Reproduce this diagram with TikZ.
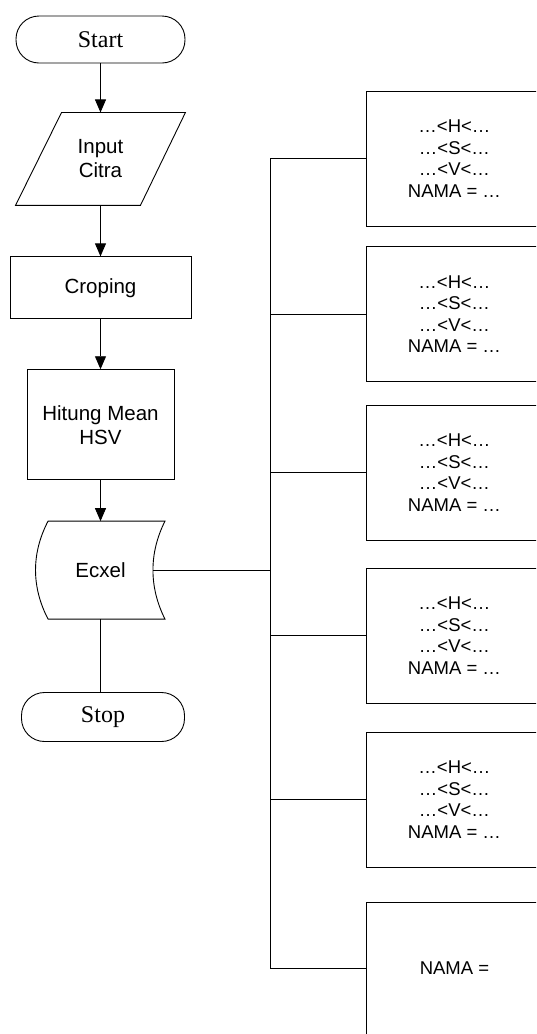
\documentclass[tikz,border=0pt]{standalone}
\usepackage{fontspec}
\setmainfont{Liberation Serif}
\setsansfont{Liberation Sans}
\usetikzlibrary{arrows.meta,positioning}

\begin{document}
\begin{tikzpicture}[x=1pt, y=-1pt, line width=0.9pt,
  >={Triangle[length=13pt,width=11pt]},
  term/.style={draw, rounded corners=23pt, minimum width=#1, inner sep=0pt,
    font={\fontsize{24}{28}\selectfont\rmfamily}},
  plain/.style={align=center, inner sep=0pt, font={\fontsize{20.5}{24}\selectfont\sffamily}},
  proc/.style={plain, draw},
  rulebox/.style={draw, align=center, anchor=west, minimum width=176pt,
    minimum height=135pt, inner sep=0pt, font={\fontsize{18.5}{21.5}\selectfont\sffamily}}]
\useasboundingbox (0,0) rectangle (536,1034);
\clip (0,0) rectangle (536,1034);

% alur utama
\node[term=169pt, minimum height=47pt] (start) at (100.5,39.5) {Start};
\node[plain, minimum width=123pt, minimum height=92pt, below=49pt of start] (input) {Input\\Citra};
\node[proc, minimum width=181pt, minimum height=62pt, below=51pt of input] (crop) {Croping};
\node[proc, minimum width=147pt, minimum height=110pt, below=50pt of crop] (mean) {Hitung Mean\\HSV};
\node[plain, minimum width=104pt, minimum height=97pt, below=41pt of mean] (excel) {Ecxel};
\node[term=163pt, minimum height=49pt, below=73pt of excel, xshift=2.5pt] (stop) {Stop};

% bentuk input dan data
\draw ([xshift=23pt]input.north west) -- ([xshift=23pt]input.north east)
  -- ([xshift=-22pt]input.south east) -- ([xshift=-23pt]input.south west) -- cycle;
\draw (excel.north west) -- ([xshift=12pt]excel.north east)
  .. controls ([xshift=-4pt,yshift=-32pt]excel.north east) and ([xshift=-4pt,yshift=32pt]excel.south east) .. ([xshift=12pt]excel.south east)
  -- (excel.south west)
  .. controls ([xshift=-16.7pt,yshift=32pt]excel.south west) and ([xshift=-16.7pt,yshift=-32pt]excel.north west) .. (excel.north west) -- cycle;

\draw[->] (start) -- (input);
\draw[->] (input) -- (crop);
\draw[->] (crop) -- (mean);
\draw[->] (mean) -- (excel);
\draw (excel) -- (excel |- stop.north);

% aturan HSV
\foreach \y [count=\i] in {158.5,314,472.5,635.5,799.5}
  \node[rulebox] (k\i) at (366,\y) {…<H<…\\…<S<…\\…<V<…\\NAMA = …};
\node[rulebox, minimum height=132pt] (k6) at (366,968) {NAMA =};

\coordinate (bus) at (270,0);
\draw (bus |- k1.west) -- (bus |- k6.west);
\foreach \i in {1,...,6}
  \draw (bus |- k\i.west) -- (k\i.west);
\draw (excel) -- (bus |- excel.east);
\end{tikzpicture}
\end{document}
